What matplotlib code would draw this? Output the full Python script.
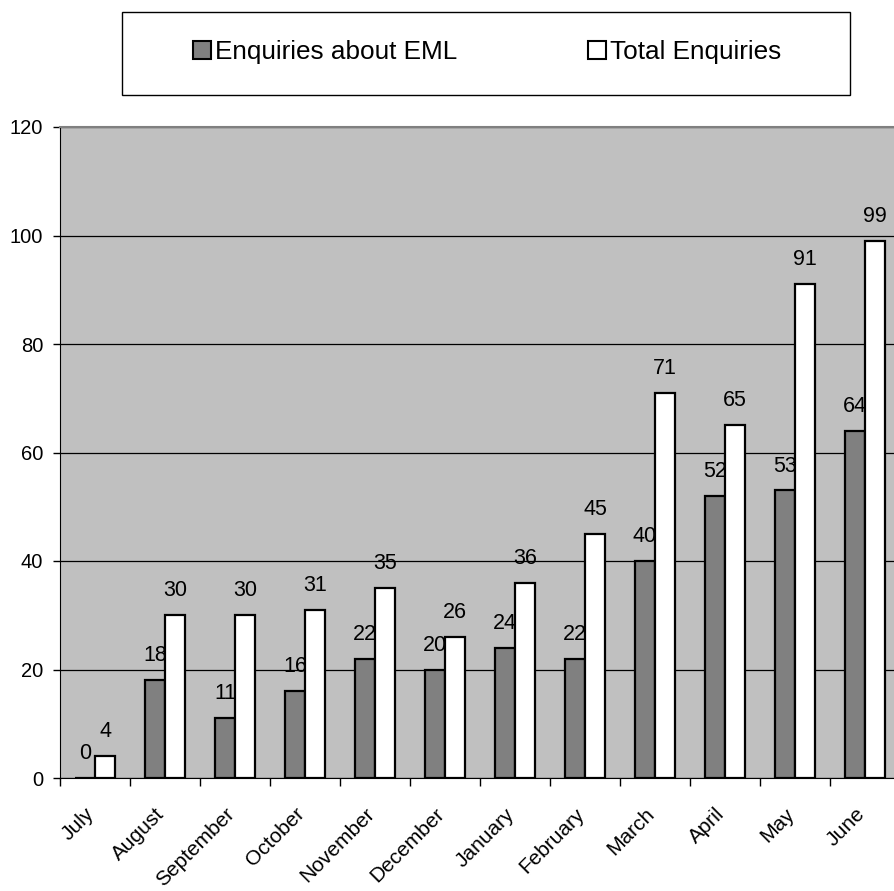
import matplotlib
matplotlib.use("Agg")
import matplotlib.pyplot as plt
import matplotlib.transforms as mtransforms
from matplotlib.patches import Rectangle
import numpy as np

months = ["July", "August", "September", "October", "November", "December",
          "January", "February", "March", "April", "May", "June"]
eml_enquiries = [0, 18, 11, 16, 22, 20, 24, 22, 40, 52, 53, 64]
total_enquiries = [4, 30, 30, 31, 35, 26, 36, 45, 71, 65, 91, 99]

plt.rcParams["font.family"] = ["Liberation Sans", "DejaVu Sans"]

W, H = 894, 891
fig = plt.figure(figsize=(W / 100, H / 100), dpi=100)

# plot area runs a little past the right edge of the figure
left, right, top, bottom = 60, 900, 127, 778
ax = fig.add_axes([left / W, 1 - bottom / H, (right - left) / W, (bottom - top) / H])
ax.set_facecolor("#C0C0C0")

x = np.arange(len(months))
bw = 20 / 70
b1 = ax.bar(x - bw / 2, eml_enquiries, bw, color="#808080", edgecolor="black",
            linewidth=1.6, zorder=3, label="Enquiries about EML")
b2 = ax.bar(x + bw / 2, total_enquiries, bw, color="white", edgecolor="black",
            linewidth=1.6, zorder=5, label="Total Enquiries")

# value labels; the grey ones sit under the white bars
for xi, v in zip(x, eml_enquiries):
    ax.annotate(str(v), (xi - bw / 2, v), xytext=(0, 10), textcoords="offset points",
                ha="center", va="bottom", fontsize=15.5, zorder=4)
for xi, v in zip(x, total_enquiries):
    ax.annotate(str(v), (xi + bw / 2, v), xytext=(0, 10), textcoords="offset points",
                ha="center", va="bottom", fontsize=15.5, zorder=6)

ax.set_xlim(-0.5, len(months) - 0.5)
ax.set_ylim(0, 120)
ax.set_yticks(range(0, 121, 20))
ax.yaxis.grid(True, color="black", linewidth=0.9, zorder=1)
ax.set_axisbelow(True)
ax.tick_params(axis="y", labelsize=14.5, length=5, width=1, direction="out", pad=7)

ax.set_xticks(x)
ax.set_xticklabels(months, rotation=45, ha="right", rotation_mode="anchor", fontsize=15)
ax.tick_params(axis="x", which="major", length=0, pad=19)
ax.set_xticks(np.arange(-0.5, len(months), 1), minor=True)
ax.tick_params(axis="x", which="minor", length=6, width=1, direction="out")
shift = mtransforms.ScaledTranslation(-10 / 100, 0, fig.dpi_scale_trans)
for lab in ax.get_xticklabels():
    lab.set_transform(lab.get_transform() + shift)

for side in ["top", "right"]:
    ax.spines[side].set_color("#808080")
    ax.spines[side].set_linewidth(1.5)
ax.spines["left"].set_color("black")
ax.spines["bottom"].set_color("black")

# legend box across the top
fig.patches.append(Rectangle((122 / W, 1 - 95 / H), (850 - 122) / W, (95 - 12) / H,
                             transform=fig.transFigure, facecolor="white",
                             edgecolor="black", linewidth=1))
leg = fig.legend(handles=[b1, b2], loc="center", bbox_to_anchor=(487 / W, 1 - 52 / H),
                 ncol=2, frameon=False, fontsize=18.8, handlelength=0.7, handleheight=0.7,
                 handletextpad=0.15, columnspacing=5.0)
for h in leg.legend_handles:
    h.set_linewidth(1.5)

fig.savefig("out.png", dpi=100)
